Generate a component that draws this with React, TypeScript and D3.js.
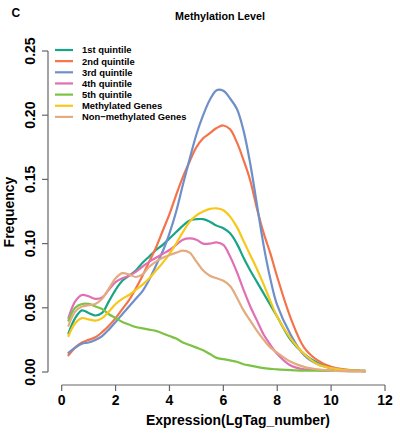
import * as d3 from "d3";
import React from "react";

// expression grid (LgTag_number) shared by all density curves
const expression = [
  0.25, 0.5, 0.75, 1, 1.25, 1.5, 1.75, 2, 2.25, 2.5, 2.75, 3, 3.25, 3.5, 3.75, 4,
  4.25, 4.5, 4.75, 5, 5.25, 5.5, 5.75, 6, 6.25, 6.5, 6.75, 7, 7.25, 7.5, 7.75, 8,
  8.5, 9, 9.5, 10, 10.5, 11, 11.25,
];

const quintile1 = [
  0.030, 0.042, 0.048, 0.046, 0.044, 0.046, 0.055, 0.064, 0.071, 0.075, 0.079, 0.085, 0.090, 0.095, 0.099, 0.104,
  0.109, 0.114, 0.118, 0.119, 0.119, 0.117, 0.114, 0.112, 0.108, 0.100, 0.089, 0.079, 0.070, 0.061, 0.052, 0.043,
  0.025, 0.014, 0.007, 0.003, 0.0015, 0.001, 0.0008,
];
const quintile2 = [
  0.013, 0.019, 0.023, 0.025, 0.027, 0.031, 0.036, 0.042, 0.049, 0.056, 0.065, 0.075, 0.086, 0.097, 0.110, 0.123,
  0.138, 0.152, 0.164, 0.175, 0.182, 0.186, 0.190, 0.192, 0.189, 0.179, 0.165, 0.149, 0.127, 0.108, 0.092, 0.074,
  0.042, 0.019, 0.009, 0.004, 0.002, 0.001, 0.0008,
];
const quintile3 = [
  0.015, 0.019, 0.022, 0.023, 0.025, 0.028, 0.033, 0.039, 0.045, 0.051, 0.057, 0.063, 0.072, 0.083, 0.094, 0.108,
  0.125, 0.146, 0.166, 0.185, 0.200, 0.212, 0.2195, 0.219, 0.213, 0.205, 0.188, 0.162, 0.130, 0.098, 0.072, 0.052,
  0.029, 0.013, 0.006, 0.003, 0.0015, 0.001, 0.0008,
];
const quintile4 = [
  0.042, 0.055, 0.060, 0.059, 0.057, 0.058, 0.064, 0.070, 0.073, 0.075, 0.078, 0.082, 0.086, 0.089, 0.092, 0.095,
  0.099, 0.103, 0.104, 0.103, 0.100, 0.100, 0.101, 0.099, 0.090, 0.078, 0.064, 0.051, 0.040, 0.029, 0.021, 0.014,
  0.005, 0.002, 0.0015, 0.001, 0.0008, 0.0006, 0.0005,
];
const quintile5 = [
  0.040, 0.050, 0.053, 0.053, 0.051, 0.049, 0.045, 0.042, 0.039, 0.037, 0.035, 0.034, 0.033, 0.032, 0.030, 0.028,
  0.026, 0.023, 0.021, 0.019, 0.017, 0.014, 0.011, 0.010, 0.009, 0.008, 0.006, 0.005, 0.004, 0.003, 0.0025, 0.002,
  0.0015, 0.001, 0.001, 0.0008, 0.0007, 0.0006, 0.0005,
];
const methylated = [
  0.028, 0.038, 0.042, 0.041, 0.040, 0.042, 0.047, 0.053, 0.057, 0.060, 0.064, 0.068, 0.073, 0.079, 0.085, 0.092,
  0.100, 0.109, 0.117, 0.122, 0.125, 0.127, 0.1275, 0.126, 0.121, 0.113, 0.102, 0.091, 0.080, 0.068, 0.055, 0.043,
  0.026, 0.014, 0.006, 0.003, 0.0015, 0.001, 0.0008,
];
const nonMethylated = [
  0.036, 0.047, 0.051, 0.052, 0.053, 0.057, 0.065, 0.073, 0.077, 0.076, 0.074, 0.076, 0.082, 0.086, 0.089, 0.091,
  0.093, 0.0945, 0.093, 0.086, 0.079, 0.075, 0.073, 0.071, 0.067, 0.058, 0.048, 0.040, 0.032, 0.025, 0.019, 0.015,
  0.008, 0.004, 0.002, 0.001, 0.0008, 0.0006, 0.0005,
];

const seriesNames = [
  "1st quintile",
  "2nd quintile",
  "3rd quintile",
  "4th quintile",
  "5th quintile",
  "Methylated Genes",
  "Non\u2212methylated Genes",
];
const seriesValues = [quintile1, quintile2, quintile3, quintile4, quintile5, methylated, nonMethylated];
const colors = ["#17a585", "#f5734b", "#6e8fc9", "#e070b4", "#7cc243", "#f7c81b", "#e3ab80"];

const xTicks = [0, 2, 4, 6, 8, 10, 12];
const yTicks = [0, 0.05, 0.1, 0.15, 0.2, 0.25];

const font = "'Liberation Sans', Arial, Helvetica, sans-serif";

const App: React.FC = () => {
  const width = 400;
  const height = 433;

  // plot mapping
  const x = d3.scaleLinear().domain([0, 12]).range([61.7, 385]);
  const y = d3.scaleLinear().domain([0, 0.25]).range([372, 51]);

  const line = d3
    .line<[number, number]>()
    .x((d) => x(d[0]))
    .y((d) => y(d[1]))
    .curve(d3.curveCatmullRom.alpha(0.5));

  const axisColor = "#666";
  const yAxisX = 48;
  const xAxisY = 385;

  return (
    <svg
      width={width}
      height={height}
      style={{ position: "absolute", left: 0, top: 0, background: "#fff" }}
      fontFamily={font}
      fontWeight="bold"
    >
      {/* panel letter and title */}
      <text x={11.5} y={16.8} fontSize={12}>C</text>
      <text x={175} y={19.5} fontSize={10.8} textLength={90} lengthAdjust="spacingAndGlyphs">
        Methylation Level
      </text>

      {/* y axis */}
      <line x1={yAxisX} x2={yAxisX} y1={y(0)} y2={y(0.25)} stroke={axisColor} strokeWidth={1.2} />
      {yTicks.map((t) => (
        <g key={t}>
          <line x1={yAxisX - 6} x2={yAxisX} y1={y(t)} y2={y(t)} stroke={axisColor} strokeWidth={1.2} />
          <text
            transform={`translate(35,${y(t)}) rotate(-90)`}
            textAnchor="middle"
            fontSize={14}
          >
            {d3.format(".2f")(t)}
          </text>
        </g>
      ))}
      <text
        transform="translate(14,212) rotate(-90)"
        textAnchor="middle"
        fontSize={14}
      >
        Frequency
      </text>

      {/* x axis */}
      <line x1={x(0)} x2={x(12)} y1={xAxisY} y2={xAxisY} stroke={axisColor} strokeWidth={1.2} />
      {xTicks.map((t) => (
        <g key={t}>
          <line x1={x(t)} x2={x(t)} y1={xAxisY} y2={xAxisY + 6} stroke={axisColor} strokeWidth={1.2} />
          <text x={x(t)} y={405} textAnchor="middle" fontSize={14}>
            {t}
          </text>
        </g>
      ))}
      <text x={146} y={425} fontSize={14} textLength={184} lengthAdjust="spacingAndGlyphs">
        Expression(LgTag_number)
      </text>

      {/* density curves */}
      {seriesValues.map((vals, i) => (
        <path
          key={seriesNames[i]}
          d={line(expression.map((e, j) => [e, vals[j]] as [number, number])) || ""}
          fill="none"
          stroke={colors[i]}
          strokeWidth={2.2}
          strokeLinejoin="round"
          strokeLinecap="round"
        />
      ))}

      {/* legend */}
      {seriesNames.map((name, i) => {
        const ly = 50 + i * 11.15;
        return (
          <g key={name}>
            <line x1={55} x2={73} y1={ly} y2={ly} stroke={colors[i]} strokeWidth={2.2} />
            <text x={82} y={ly + 3.4} fontSize={9.4}>
              {name}
            </text>
          </g>
        );
      })}
    </svg>
  );
};

export default App;
